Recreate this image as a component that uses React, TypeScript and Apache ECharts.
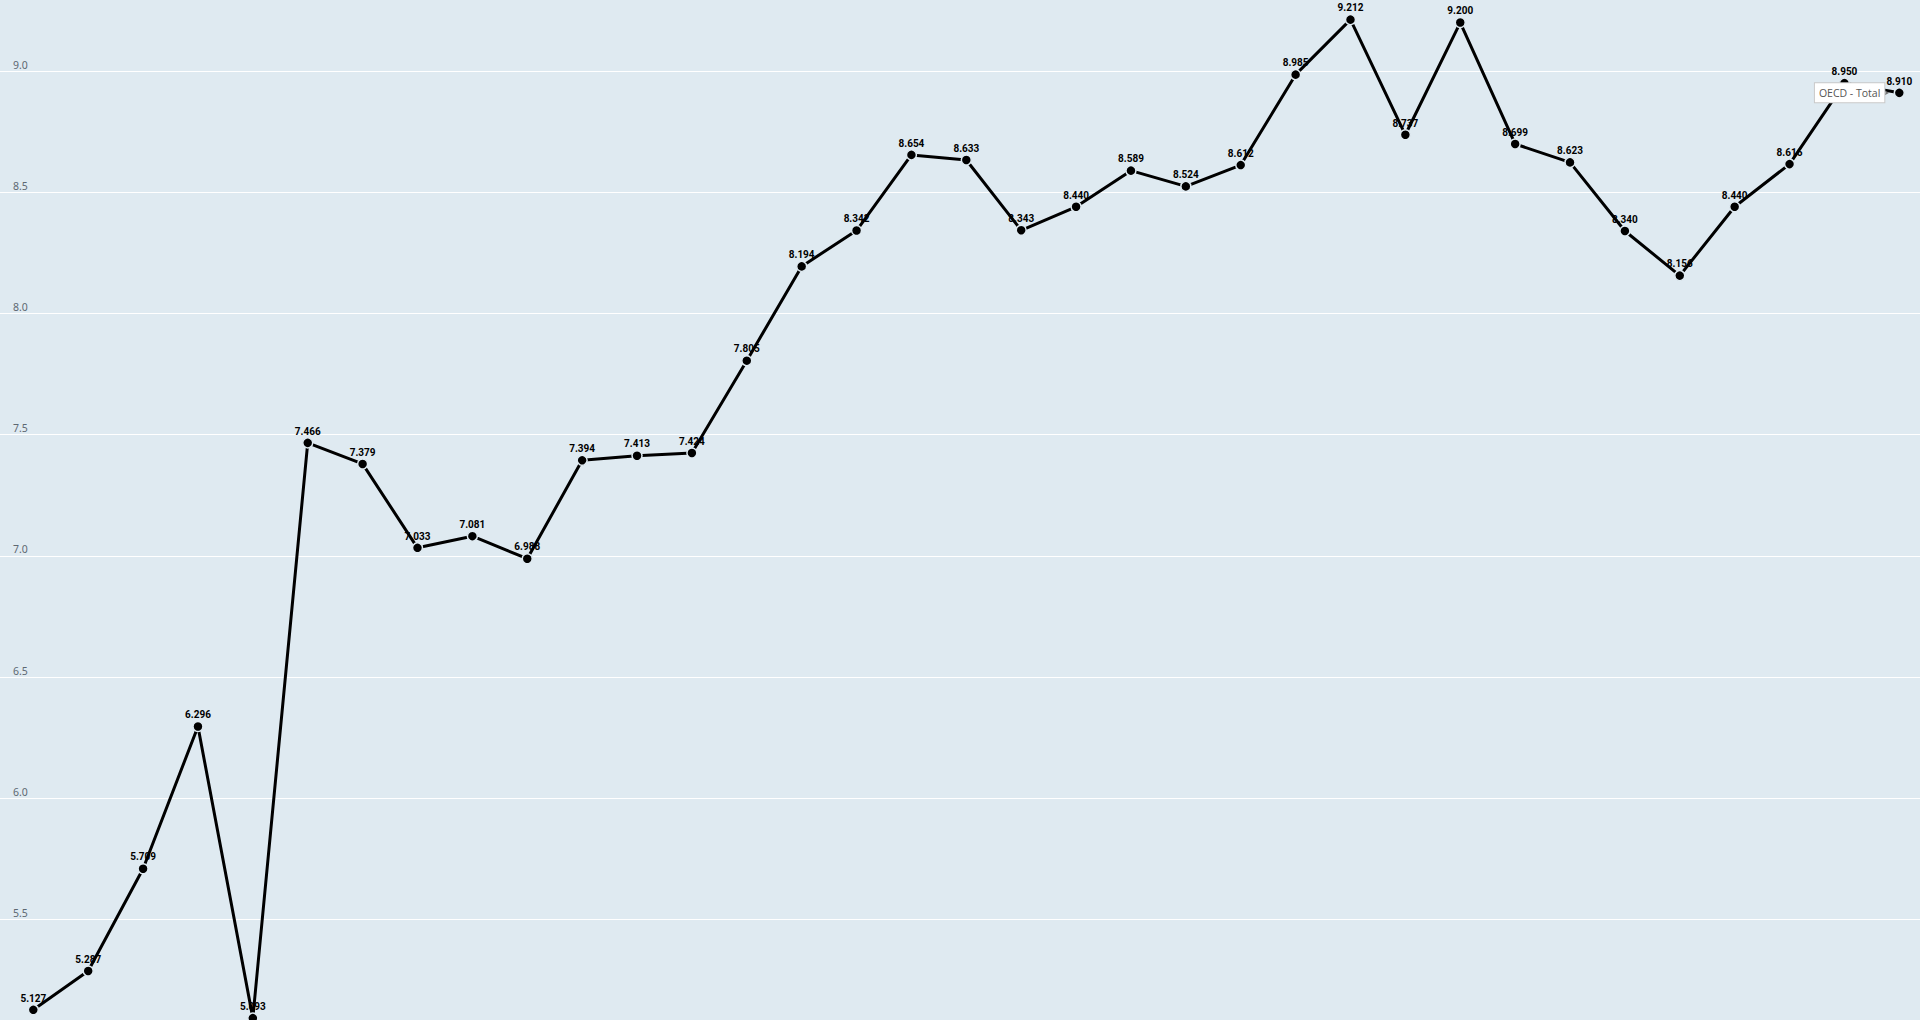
import React, { useEffect, useRef } from "react";
import * as echarts from "echarts";

const values: number[] = [
  5.127, 5.287, 5.709, 6.296, 5.093, 7.466, 7.379, 7.033, 7.081, 6.988,
  7.394, 7.413, 7.424, 7.805, 8.194, 8.342, 8.654, 8.633, 8.343, 8.44,
  8.589, 8.524, 8.612, 8.985, 9.212, 8.737, 9.2, 8.699, 8.623, 8.34,
  8.156, 8.44, 8.616, 8.95, 8.91,
];
const seriesName = "OECD - Total";
const yTickStep = 0.5;

export default function App() {
  const ref = useRef<HTMLDivElement>(null);
  useEffect(() => {
    if (!ref.current) return;
    const chart = echarts.init(ref.current, undefined, { renderer: "svg" });
    const data = values.map((v, i) => [i, v]);
    const last = data[data.length - 1];
    chart.setOption({
      animation: false,
      backgroundColor: "#dfeaf1",
      grid: { left: 0, right: 0, top: 0, bottom: 0, containLabel: false },
      xAxis: {
        type: "value",
        min: -0.607,
        max: values.length - 1 + 0.377,
        show: false,
      },
      yAxis: {
        type: "value",
        min: 5.085,
        max: 9.293,
        splitNumber: 8,
        axisLine: { show: false },
        axisTick: { show: false },
        axisLabel: {
          inside: true,
          margin: 13,
          showMinLabel: false,
          showMaxLabel: false,
          verticalAlign: "bottom",
          padding: [0, 0, 1, 0],
          color: "#5d6872",
          fontSize: 10.5,
          fontFamily: "Noto Sans, sans-serif",
          formatter: (v: number) =>
            Math.abs(v / yTickStep - Math.round(v / yTickStep)) < 1e-6 ? v.toFixed(1) : "",
        },
        splitLine: {
          show: true,
          showMinLine: false,
          showMaxLine: false,
          lineStyle: { color: "#ffffff", width: 1 },
        },
      },
      series: [
        {
          name: seriesName,
          type: "line",
          data,
          symbol: "circle",
          symbolSize: 10,
          itemStyle: { color: "#000000", borderColor: "#dfeaf1", borderWidth: 1.5 },
          lineStyle: { color: "#000000", width: 3 },
          label: {
            show: true,
            position: "top",
            distance: 1,
            color: "#000000",
            fontWeight: "bold",
            fontSize: 10,
            fontFamily: "Liberation Sans Narrow, Arial Narrow, Roboto, sans-serif",
            formatter: (p: any) => p.value[1].toFixed(3),
          },
          markPoint: {
            silent: true,
            data: [
              {
                coord: last,
                symbol: "circle",
                symbolSize: 0,
                label: {
                  show: true,
                  position: "left",
                  distance: 15,
                  formatter: seriesName,
                  backgroundColor: "#ffffff",
                  borderColor: "#c9c9c9",
                  borderWidth: 1,
                  padding: [4, 4, 4, 4],
                  color: "#555555",
                  fontSize: 10.5,
                  fontFamily: "Open Sans, sans-serif",
                },
              },
              {
                coord: last,
                symbol: "arrow",
                symbolRotate: -90,
                symbolSize: [4, 5],
                symbolOffset: [-10, 0],
                itemStyle: { color: "#777777" },
                label: { show: false },
              },
            ],
          },
        },
      ],
    });
    return () => chart.dispose();
  }, []);
  return (
    <div
      ref={ref}
      style={{ position: "fixed", left: 0, top: 0, width: 1920, height: 1020 }}
    />
  );
}
